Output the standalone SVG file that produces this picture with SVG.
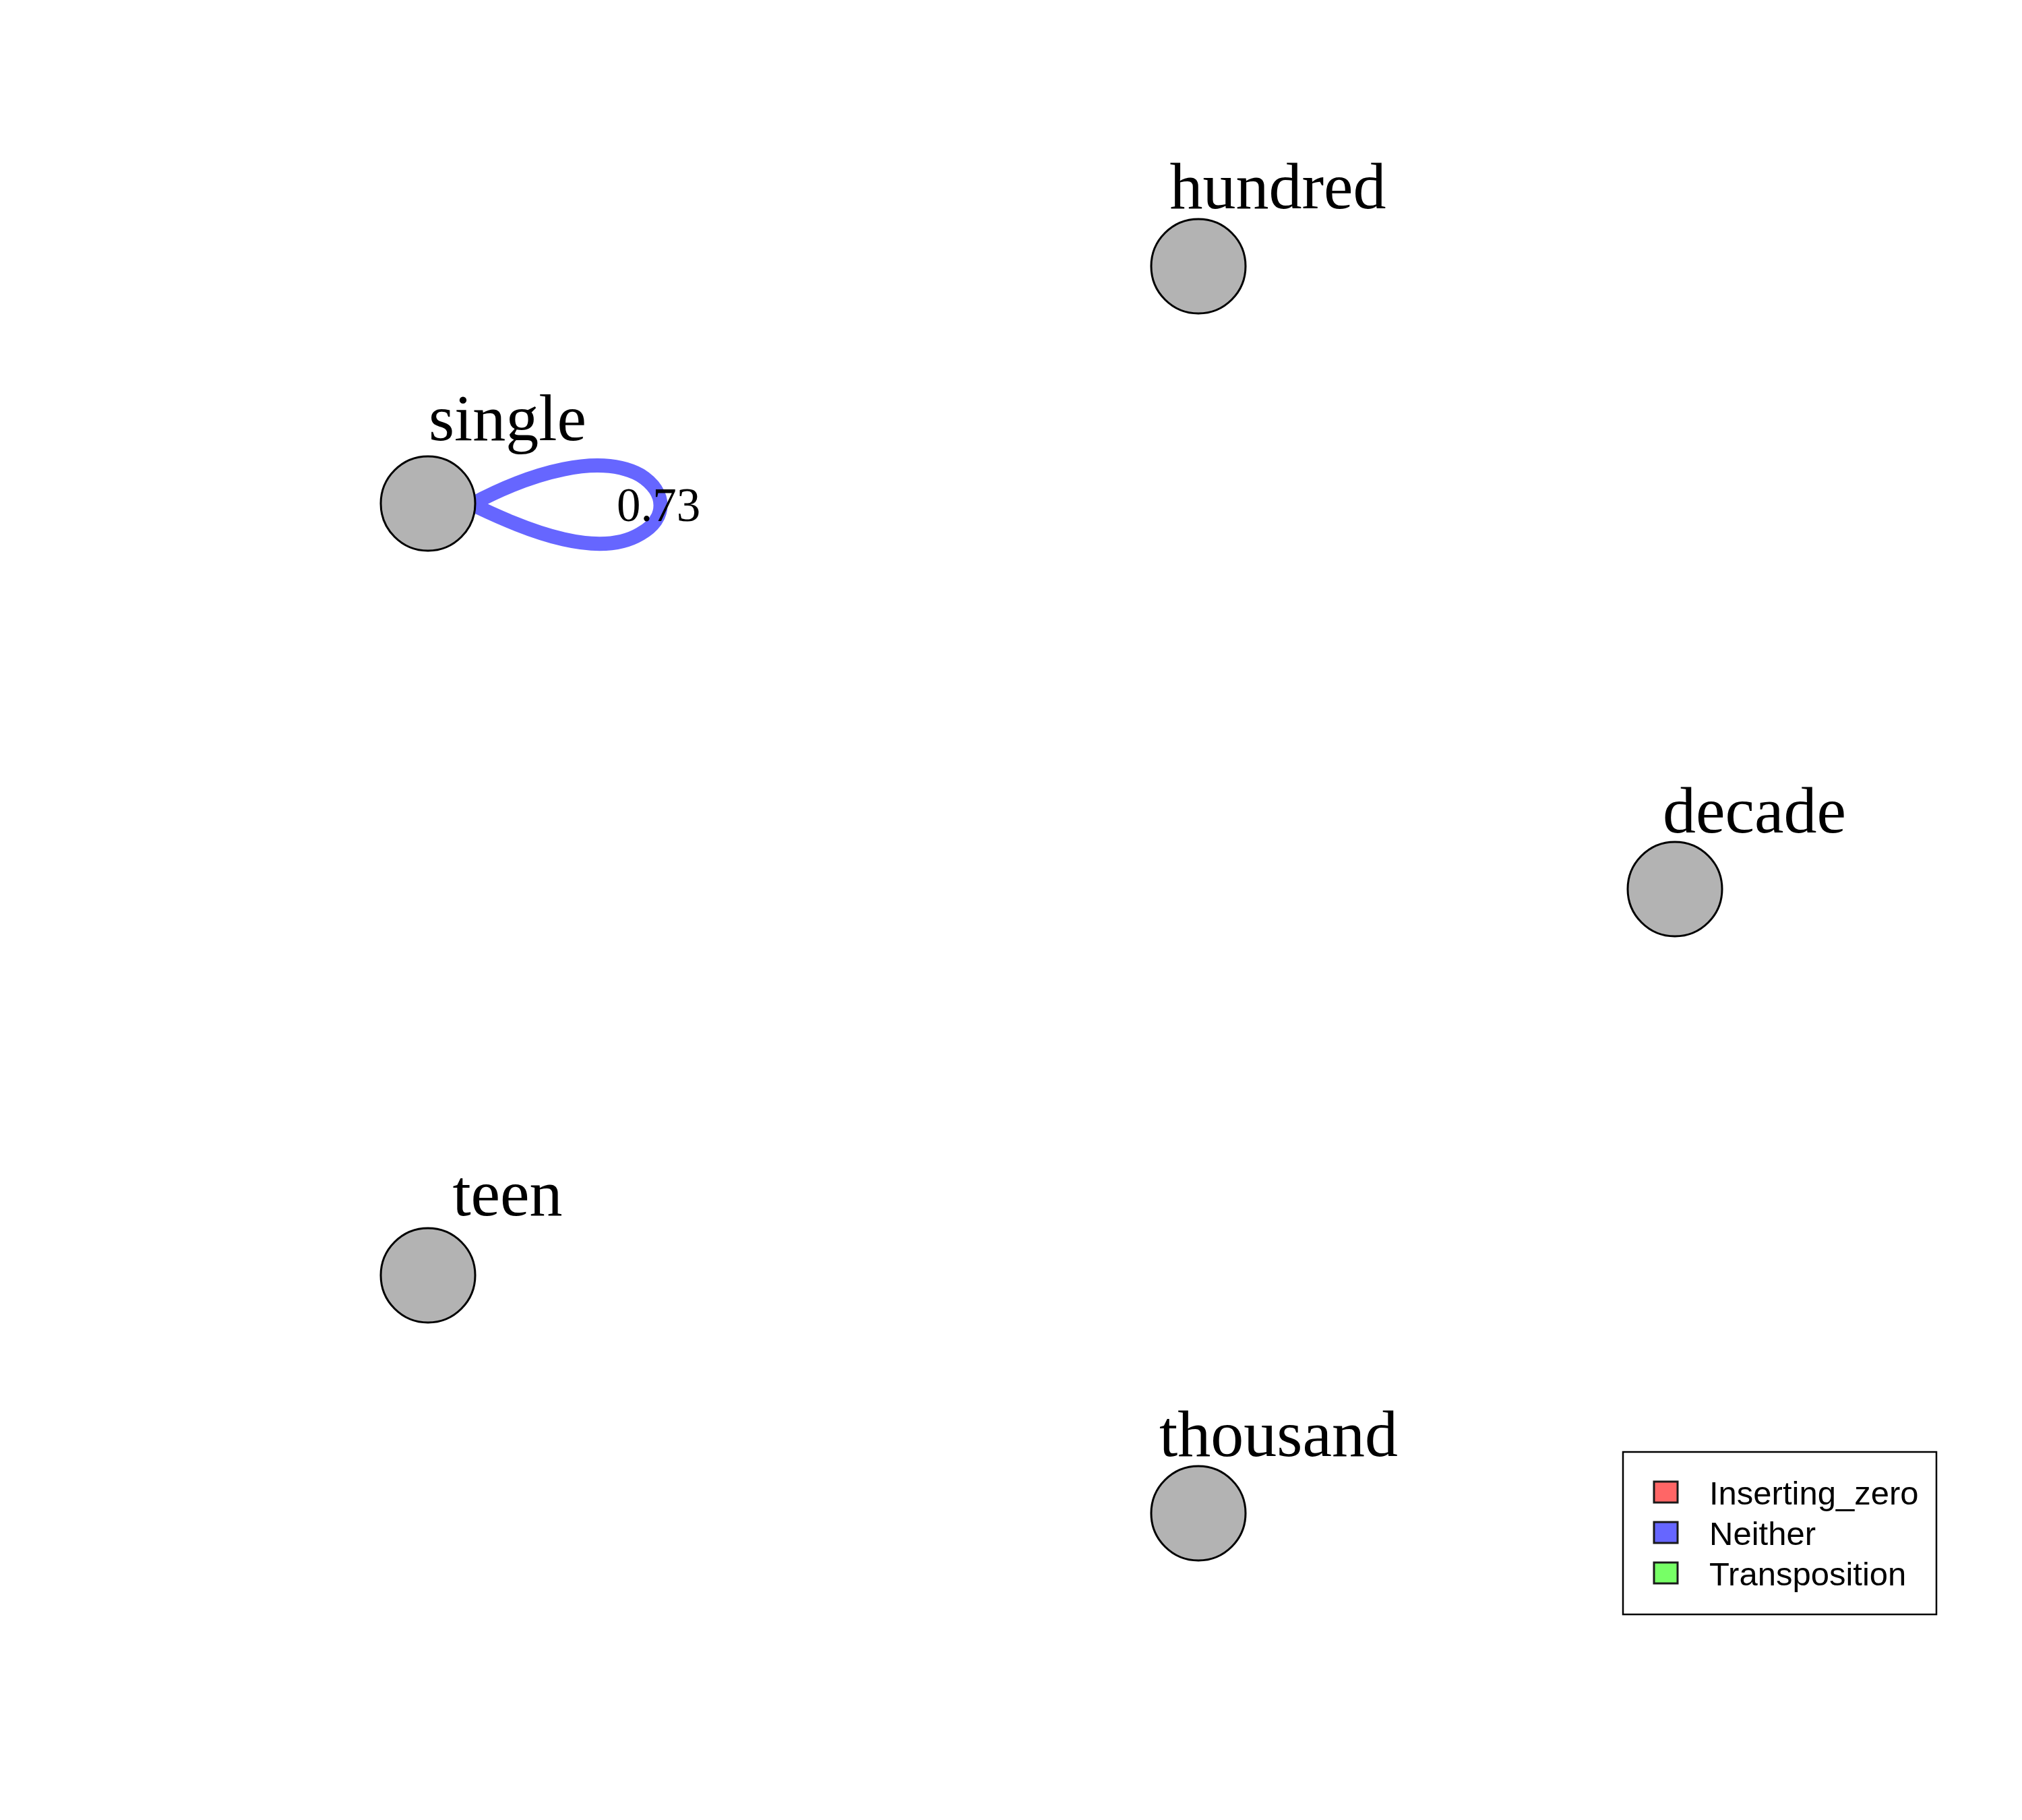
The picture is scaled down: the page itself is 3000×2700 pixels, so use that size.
<svg xmlns="http://www.w3.org/2000/svg" width="3000" height="2700" viewBox="0 0 3000 2700">
<style>
.node{fill:#B3B3B3;stroke:#000;stroke-width:3}
.lbl{font-family:"Liberation Serif","Times New Roman",serif;font-size:98px;fill:#000;text-anchor:middle}
.elbl{font-family:"Liberation Serif","Times New Roman",serif;font-size:71px;fill:#000;text-anchor:middle}
.leg{font-family:"Liberation Sans",Arial,sans-serif;font-size:49px;fill:#000}
.sw{stroke:#1a1a1a;stroke-width:3}
</style>
<rect width="3000" height="2700" fill="#fff"/>
<g id="connectors">
<path id="edge-single-single" d="M635,748 L700,748 C790,700 890,672 950,705 C990,730 990,770 950,792 C890,828 790,792 700,748 Z" fill="none" stroke="#6666FF" stroke-width="21" stroke-linejoin="miter"/>
</g>
<g id="node-hundred"><circle class="node" cx="1778" cy="395" r="70"/><text class="lbl" x="1896" y="309">hundred</text></g>
<g id="node-single"><circle class="node" cx="635" cy="747" r="70"/><text class="lbl" x="753" y="653">single</text></g>
<g id="node-decade"><circle class="node" cx="2485" cy="1319" r="70"/><text class="lbl" x="2603" y="1235">decade</text></g>
<g id="node-teen"><circle class="node" cx="635" cy="1892" r="70"/><text class="lbl" x="753" y="1803">teen</text></g>
<g id="node-thousand"><circle class="node" cx="1778" cy="2245" r="70"/><text class="lbl" x="1897" y="2160">thousand</text></g>
<text class="elbl" x="977" y="773">0.73</text>
<g id="legend">
<rect x="2408" y="2154" width="465" height="241" fill="#fff" stroke="#000" stroke-width="2.5"/>
<rect class="sw" x="2454" y="2198" width="35" height="31" fill="#FF6666"/>
<rect class="sw" x="2454" y="2258" width="35" height="31" fill="#6666FF"/>
<rect class="sw" x="2454" y="2318" width="35" height="31" fill="#77FF66"/>
<text class="leg" x="2536" y="2232">Inserting_zero</text>
<text class="leg" x="2536" y="2292">Neither</text>
<text class="leg" x="2536" y="2352">Transposition</text>
</g>
</svg>
